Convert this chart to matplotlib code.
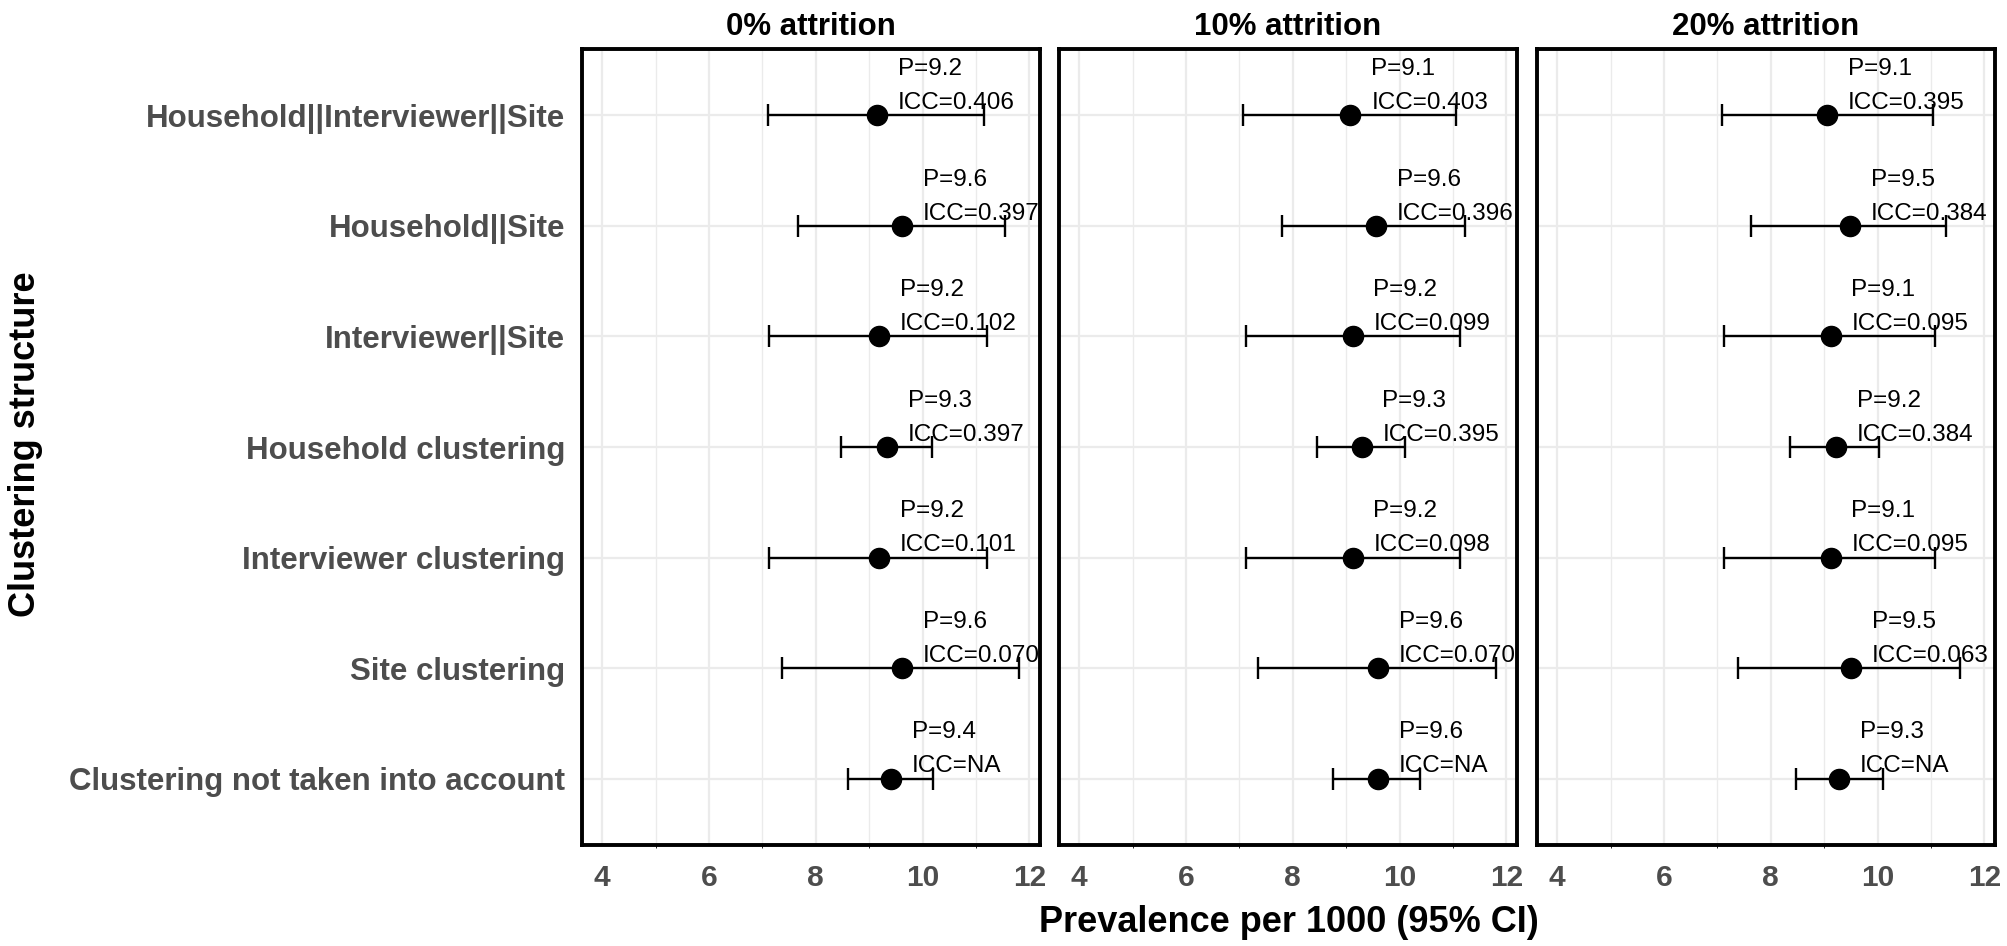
import numpy as np
import matplotlib.pyplot as plt
from matplotlib.ticker import MultipleLocator

plt.rcParams['font.family'] = ['Liberation Sans', 'DejaVu Sans']

# data
structures = ["Household||Interviewer||Site", "Household||Site", "Interviewer||Site",
              "Household clustering", "Interviewer clustering", "Site clustering",
              "Clustering not taken into account"]
panels = ["0% attrition", "10% attrition", "20% attrition"]

est_0 = [9.15, 9.62, 9.18, 9.34, 9.18, 9.62, 9.41]
lo_0 = [7.11, 7.67, 7.13, 8.48, 7.13, 7.37, 8.61]
hi_0 = [11.16, 11.54, 11.21, 10.18, 11.21, 11.81, 10.19]
p_0 = ["9.2", "9.6", "9.2", "9.3", "9.2", "9.6", "9.4"]
icc_0 = ["0.406", "0.397", "0.102", "0.397", "0.101", "0.070", "NA"]

est_10 = [9.08, 9.56, 9.12, 9.29, 9.12, 9.60, 9.59]
lo_10 = [7.07, 7.79, 7.13, 8.45, 7.13, 7.35, 8.76]
hi_10 = [11.05, 11.23, 11.13, 10.11, 11.13, 11.81, 10.39]
p_10 = ["9.1", "9.6", "9.2", "9.3", "9.2", "9.6", "9.6"]
icc_10 = ["0.403", "0.396", "0.099", "0.395", "0.098", "0.070", "NA"]

est_20 = [9.06, 9.48, 9.12, 9.22, 9.12, 9.50, 9.28]
lo_20 = [7.08, 7.62, 7.13, 8.36, 7.13, 7.39, 8.48]
hi_20 = [11.03, 11.28, 11.08, 10.02, 11.08, 11.55, 10.10]
p_20 = ["9.1", "9.5", "9.1", "9.2", "9.1", "9.5", "9.3"]
icc_20 = ["0.395", "0.384", "0.095", "0.384", "0.095", "0.063", "NA"]

ests = [est_0, est_10, est_20]
los = [lo_0, lo_10, lo_20]
his = [hi_0, hi_10, hi_20]
ps = [p_0, p_10, p_20]
iccs = [icc_0, icc_10, icc_20]

fig = plt.figure(figsize=(20.08, 9.46), dpi=100)
W, H = 2008, 946
lefts = [582, 1059, 1537]
pw = 458
top, bot = 49, 845
y = np.arange(len(structures))
grey = '#4D4D4D'

for k in range(3):
    ax = fig.add_axes([lefts[k] / W, 1 - bot / H, pw / W, (bot - top) / H])
    est, lo, hi = np.array(ests[k]), np.array(los[k]), np.array(his[k])
    ax.errorbar(est, y, xerr=[est - lo, hi - est], fmt='o', color='black',
                ms=14.5, elinewidth=1.7, capsize=8, capthick=1.7, zorder=3)
    for i in range(len(y)):
        ax.annotate("P=" + ps[k][i], (est[i], y[i]), xytext=(15, 29),
                    textcoords='offset points', ha='left', va='baseline',
                    fontsize=17.5, color='black', zorder=4)
        ax.annotate("ICC=" + iccs[k][i], (est[i], y[i]), xytext=(15, 4.5),
                    textcoords='offset points', ha='left', va='baseline',
                    fontsize=17.5, color='black', zorder=4)
    ax.set_xlim(3.62, 12.2)
    ax.set_ylim(len(y) - 1 + 0.6, -0.6)
    ax.xaxis.set_major_locator(MultipleLocator(2))
    ax.xaxis.set_minor_locator(MultipleLocator(1))
    ax.set_yticks(y)
    ax.grid(True, which='major', color='#EBEBEB', lw=1.6)
    ax.grid(True, which='minor', axis='x', color='#EBEBEB', lw=1.0)
    ax.set_axisbelow(True)
    ax.tick_params(length=0, pad=14)
    for lab in ax.get_xticklabels():
        lab.set_fontsize(21.5)
        lab.set_fontweight('bold')
        lab.set_color(grey)
    if k == 0:
        ax.set_yticklabels(structures, fontsize=22.5, fontweight='bold', color=grey)
        ax.tick_params(axis='y', pad=12)
    else:
        ax.set_yticklabels([])
    for s in ax.spines.values():
        s.set_linewidth(2.8)
        s.set_color('black')
    ax.set_title(panels[k], fontsize=22.5, fontweight='bold', pad=10)

fig.text(26 / W, 1 - 444 / H, "Clustering structure", rotation=90, ha='center',
         va='center', fontsize=26, fontweight='bold')
fig.text((lefts[0] + lefts[2] + pw) / 2 / W, 1 - 922 / H, "Prevalence per 1000 (95% CI)",
         ha='center', va='center', fontsize=26, fontweight='bold')

fig.savefig('out.png', dpi=100)
